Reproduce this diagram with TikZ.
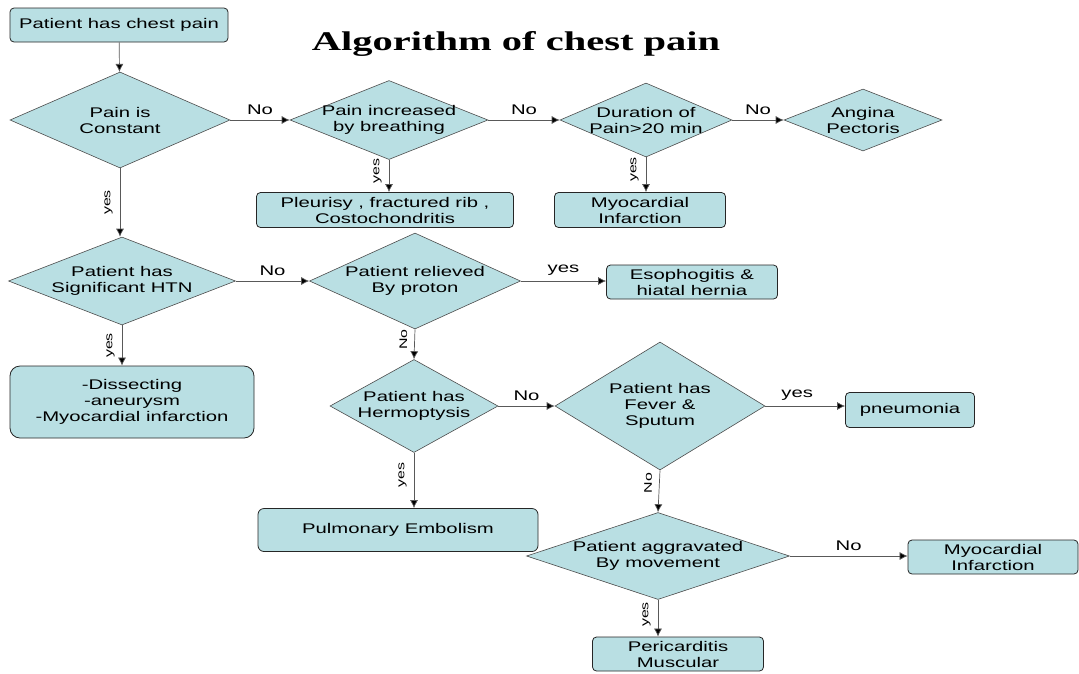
\documentclass[tikz,border=0pt]{standalone}
\usepackage{fontspec}
\setmainfont[FakeStretch=1.45]{Liberation Sans}
\newfontfamily\titlefont[FakeStretch=1.5]{Liberation Serif}
\usepackage{tikz}
\usepackage{xcolor}
\usetikzlibrary{shapes.geometric,arrows.meta}
\definecolor{cyanfill}{RGB}{185,223,227}

\begin{document}
\begin{tikzpicture}[x=1pt, y=-1pt, font=\fontsize{14}{16}\selectfont,
  box/.style={draw=black!85, line width=0.8pt, fill=cyanfill, rounded corners=4pt, align=center, inner sep=1pt},
  dec/.style={diamond, aspect=2.4, draw=black!70, line width=0.6pt, fill=cyanfill, align=center, inner sep=-8pt},
  arr/.style={draw=black!65, line width=0.7pt, -{Latex[length=8pt,width=8pt,fill=black]}},
  lab/.style={font=\fontsize{14}{16}\selectfont},
  vlab/.style={font=\fontsize{11}{12}\selectfont, rotate=90, anchor=south, inner sep=7pt}]
  \useasboundingbox (0,0) rectangle (1079,673);

  \node (T) at (516,44) {\titlefont\fontsize{27}{30}\selectfont\bfseries Algorithm of chest pain};

  \node (A) [box, minimum width=218pt, minimum height=34pt] at (119,25) {Patient has chest pain};
  \node (D1) [dec, minimum width=220pt, minimum height=96pt] at (120,120) {Pain is\\Constant};
  \node (D2) [dec, minimum width=198pt, minimum height=79pt] at (389,120) {Pain increased\\by breathing};
  \node (D3) [dec, minimum width=172pt, minimum height=74pt] at (646,120) {Duration of\\Pain>20 min};
  \node (D3a) [dec, minimum width=158pt, minimum height=62pt] at (863,120) {Angina\\Pectoris};
  \node (B1) [box, minimum width=257pt, minimum height=35pt] at (385,210) {Pleurisy , fractured rib ,\\Costochondritis};
  \node (B2) [box, minimum width=171pt, minimum height=35pt] at (640,210) {Myocardial\\Infarction};

  \node (D4) [dec, minimum width=227pt, minimum height=88pt] at (122,281) {Patient has\\Significant HTN};
  \node (D5) [dec, minimum width=211pt, minimum height=96pt] at (415,281) {Patient relieved\\By proton};
  \node (B3) [box, minimum width=171pt, minimum height=34pt] at (692,282) {Esophogitis \&\\hiatal hernia};
  \node (B4) [box, rounded corners=10pt, minimum width=244pt, minimum height=72pt] at (132,402) {-Dissecting\\-aneurysm\\-Myocardial infarction};

  \node (D6) [dec, minimum width=168pt, minimum height=93pt] at (414,406) {Patient has\\Hermoptysis};
  \node (D7) [dec, minimum width=210pt, minimum height=128pt] at (660,406) {Patient has\\Fever \&\\Sputum};
  \node (B5) [box, minimum width=129pt, minimum height=35pt] at (910,410) {pneumonia};
  \node (B6) [box, rounded corners=6pt, minimum width=280pt, minimum height=43pt] at (398,530) {Pulmonary Embolism};

  \node (D8) [dec, minimum width=263pt, minimum height=87pt] at (658,556) {Patient aggravated\\By movement};
  \node (B7) [box, minimum width=170pt, minimum height=34pt] at (993,557) {Myocardial\\Infarction};
  \node (B8) [box, minimum width=171pt, minimum height=34pt] at (678,654) {Pericarditis\\Muscular};

  \draw[arr] (A) -- (D1);
  \draw[arr] (D1) -- node[lab, above=2pt] {No} (D2);
  \draw[arr] (D2) -- node[lab, above=2pt] {No} (D3);
  \draw[arr] (D3) -- node[lab, above=2pt] {No} (D3a);
  \draw[arr] (D2.south) -- node[vlab, pos=0.35] {yes} (D2.south |- B1.north);
  \draw[arr] (D3.south) -- node[vlab, pos=0.35] {yes} (D3.south |- B2.north);
  \draw[arr] (D1.south) -- node[vlab] {yes} (D1.south |- D4.north);
  \draw[arr] (D4) -- node[lab, above=2pt] {No} (D5);
  \draw[arr] (D5) -- node[lab, above=2pt] {yes} (D5 -| B3.west);
  \draw[arr] (D4.south) -- node[vlab] {yes} (D4.south |- B4.north);
  \draw[arr] (D5.south) -- node[vlab, pos=0.35] {No} (D6.north);
  \draw[arr] (D6) -- node[lab, above=2pt] {No} (D7);
  \draw[arr] (D7.east) -- node[lab, above=2pt, pos=0.4] {yes} (D7.east -| B5.west);
  \draw[arr] (D6.south) -- node[vlab, pos=0.4] {yes} (D6.south |- B6.north);
  \draw[arr] (D7.south) -- node[vlab, pos=0.3] {No} (D8.north);
  \draw[arr] (D8.east) -- node[lab, above=2pt] {No} (D8.east -| B7.west);
  \draw[arr] (D8.south) -- node[vlab, pos=0.4] {yes} (D8.south |- B8.north);
\end{tikzpicture}
\end{document}
